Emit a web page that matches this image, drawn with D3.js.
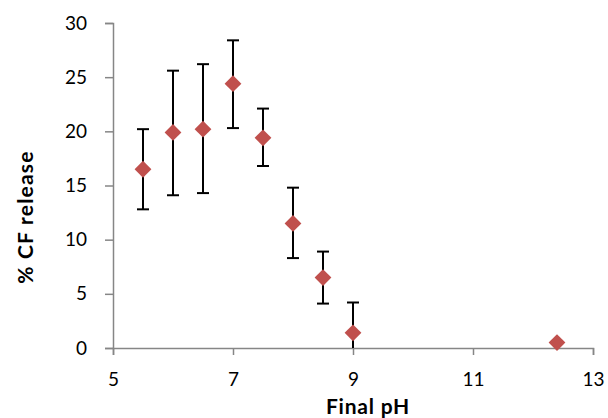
<!DOCTYPE html>
<html>
<head>
<meta charset="utf-8">
<script src="https://cdn.jsdelivr.net/npm/d3@7"></script>
<style>
  body { margin: 0; background: #fff; }
  text { font-family: Lato, "Open Sans", sans-serif; }
</style>
</head>
<body>
<svg id="chart" width="608" height="418"></svg>
<script>
// ------------ DATA -----------------
const finalPH   = [5.5, 6, 6.5, 7, 7.5, 8, 8.5, 9, 12.4];
const cfRelease = [16.5, 19.9, 20.2, 24.4, 19.4, 11.5, 6.5, 1.4, 0.5];
const errLow    = [12.8, 14.1, 14.3, 20.3, 16.8, 8.3, 4.1, 0, null];
const errHigh   = [20.2, 25.6, 26.2, 28.4, 22.1, 14.8, 8.9, 4.2, null];
const xTicks = [5, 7, 9, 11, 13];
const yTicks = [0, 5, 10, 15, 20, 25, 30];

// ------------ SETUP -----------------
const svg = d3.select("#chart");
const plotLeft = 113, plotRight = 593, plotTop = 23, plotBottom = 348;

const x = d3.scaleLinear().domain([5, 13]).range([plotLeft, plotRight]);
const y = d3.scaleLinear().domain([0, 30]).range([plotBottom, plotTop]);

const axisColor = "#868686";

// y axis
const yAxis = svg.append("g")
  .attr("transform", `translate(${plotLeft},0)`)
  .call(d3.axisLeft(y).tickValues(yTicks).tickSize(8).tickPadding(18).tickFormat(d3.format("d")));

// x axis
const xAxis = svg.append("g")
  .attr("transform", `translate(0,${plotBottom})`)
  .call(d3.axisBottom(x).tickValues(xTicks).tickSize(7).tickPadding(18).tickFormat(d3.format("d")));

[xAxis, yAxis].forEach(g => {
  g.select(".domain").attr("stroke", axisColor).attr("stroke-width", 1.5);
  g.selectAll(".tick line").attr("stroke", axisColor).attr("stroke-width", 1.5);
  g.selectAll(".tick text").attr("fill", "#000").attr("font-size", 19);
});

// ------------ ERROR BARS -----------------
const rows = finalPH.map((p, i) => ({ p, v: cfRelease[i], lo: errLow[i], hi: errHigh[i] }));
const withErr = rows.filter(d => d.hi !== null);

const bars = svg.append("g").attr("stroke", "#000").attr("stroke-width", 2);
bars.selectAll("line.v").data(withErr).join("line")
  .attr("class", "v")
  .attr("x1", d => x(d.p)).attr("x2", d => x(d.p))
  .attr("y1", d => y(d.lo)).attr("y2", d => y(d.hi));
bars.selectAll("line.cap-hi").data(withErr).join("line")
  .attr("class", "cap-hi")
  .attr("x1", d => x(d.p) - 6).attr("x2", d => x(d.p) + 6)
  .attr("y1", d => y(d.hi)).attr("y2", d => y(d.hi));
bars.selectAll("line.cap-lo").data(withErr.filter(d => d.lo > 0)).join("line")
  .attr("class", "cap-lo")
  .attr("x1", d => x(d.p) - 6).attr("x2", d => x(d.p) + 6)
  .attr("y1", d => y(d.lo)).attr("y2", d => y(d.lo));

// ------------ MARKERS -----------------
const diamond = d3.symbol().type(d3.symbolDiamond2).size(180);
svg.append("g").selectAll("path").data(rows).join("path")
  .attr("d", diamond)
  .attr("transform", d => `translate(${x(d.p)},${y(d.v)})`)
  .attr("fill", "#c0504d");

// ------------ TITLES -----------------
svg.append("text")
  .attr("x", 368).attr("y", 414)
  .attr("text-anchor", "middle")
  .attr("font-size", 21).attr("font-weight", "bold")
  .attr("letter-spacing", 0.8)
  .text("Final pH");

svg.append("text")
  .attr("transform", "translate(33,217) rotate(-90)")
  .attr("text-anchor", "middle")
  .attr("font-size", 21).attr("font-weight", "bold")
  .attr("letter-spacing", 1.2)
  .text("% CF release");
</script>
</body>
</html>
